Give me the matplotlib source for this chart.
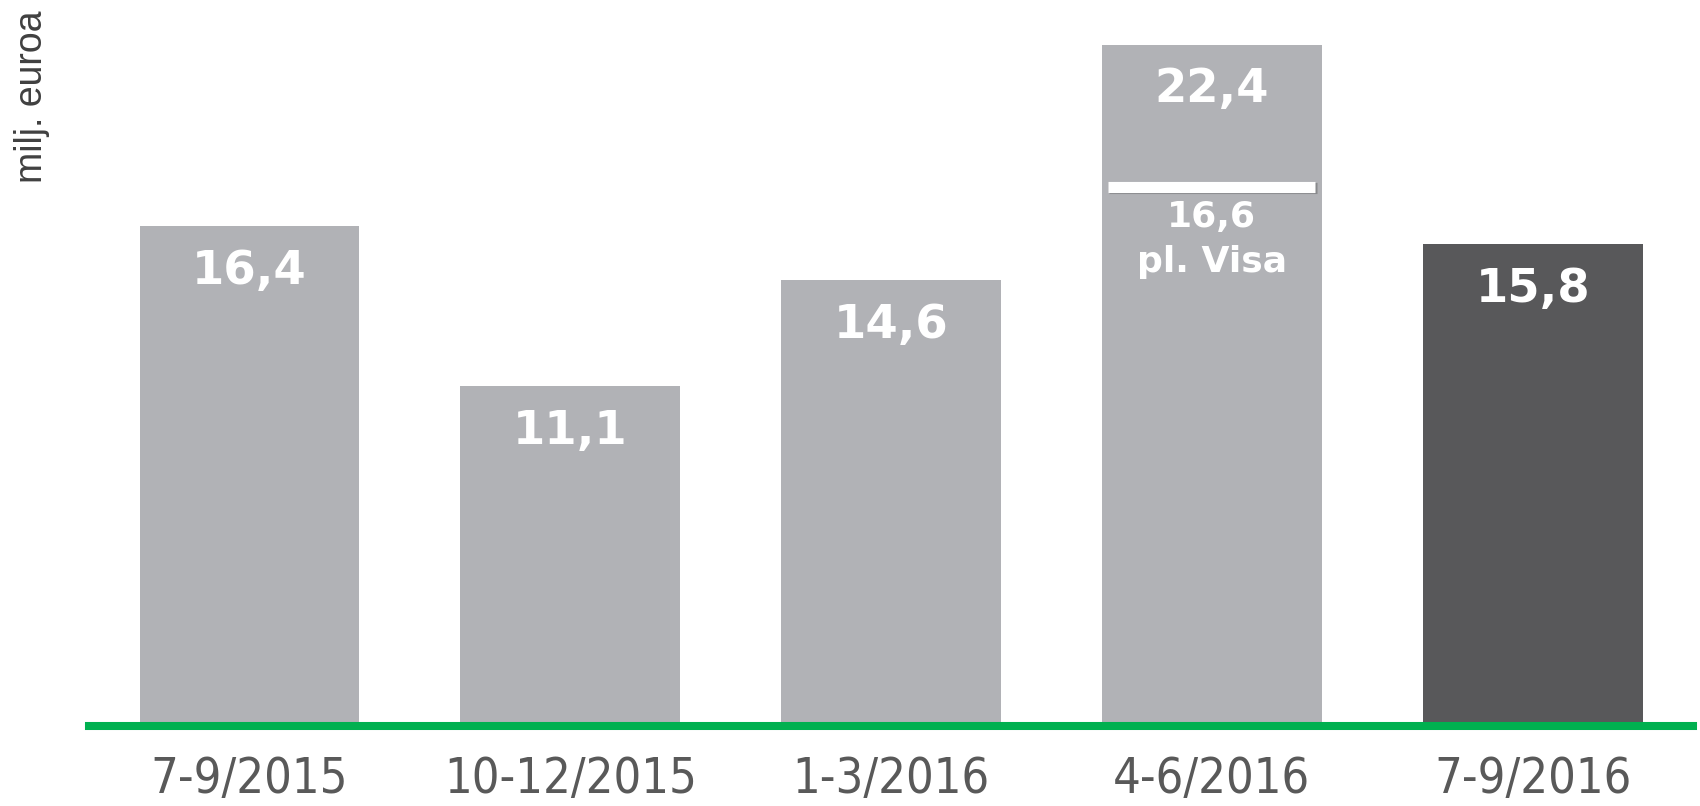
import matplotlib
matplotlib.use('Agg')
import matplotlib.pyplot as plt
import matplotlib.patheffects as pe

periods = ['7-9/2015', '10-12/2015', '1-3/2016', '4-6/2016', '7-9/2016']
values = [16.4, 11.1, 14.6, 22.4, 15.8]
value_labels = ['16,4', '11,1', '14,6', '22,4', '15,8']
visa_index = 3
visa_mark = 17.7          # position of the white marker line as drawn
visa_label = '16,6\npl. Visa'

light = '#B1B2B6'
dark = '#58585A'
colors = [light, light, light, light, dark]

fig = plt.figure(figsize=(17, 8.06), dpi=100)
ax = fig.add_axes([0.0524, 0.1042, 0.9435, 0.863])
ax.set_xlim(-0.5, 4.5)
ax.set_ylim(0, 23)

x = list(range(len(values)))
ax.bar(x, values, width=0.685, color=colors, zorder=2)

# green baseline
ax.axhline(-0.13, color='#00B050', lw=5.8, clip_on=False, zorder=3)

for xi, v, lab in zip(x, values, value_labels):
    ax.text(xi, v - 1.5, lab, ha='center', va='center', color='white',
            fontsize=33.5, fontweight='bold', family='DejaVu Sans', zorder=4)

# Visa marker inside the 4-6/2016 bar
ax.plot([visa_index - 0.323, visa_index + 0.323], [visa_mark, visa_mark],
        color='white', lw=8, solid_capstyle='butt', zorder=4,
        path_effects=[pe.SimpleLineShadow(offset=(0.8, -1.2), shadow_color='#6E6E70', alpha=0.6),
                      pe.Normal()])
ax.text(visa_index, visa_mark - 0.45, visa_label, ha='center', va='top', color='white',
        fontsize=26, fontweight='bold', family='DejaVu Sans', linespacing=1.38, zorder=4)

ax.set_xticks(x)
ax.set_xticklabels(periods, fontsize=35, color='#595959',
                   family='DejaVu Sans', fontstretch='condensed')
ax.tick_params(axis='x', length=0, pad=24)
ax.set_yticks([])
for s in ax.spines.values():
    s.set_visible(False)

fig.text(0.019, 0.880, 'milj. euroa', rotation=90, ha='center', va='center',
         fontsize=27, color='#404040', family=['Liberation Sans', 'DejaVu Sans'])

fig.savefig('out.png', dpi=100, facecolor='white')
